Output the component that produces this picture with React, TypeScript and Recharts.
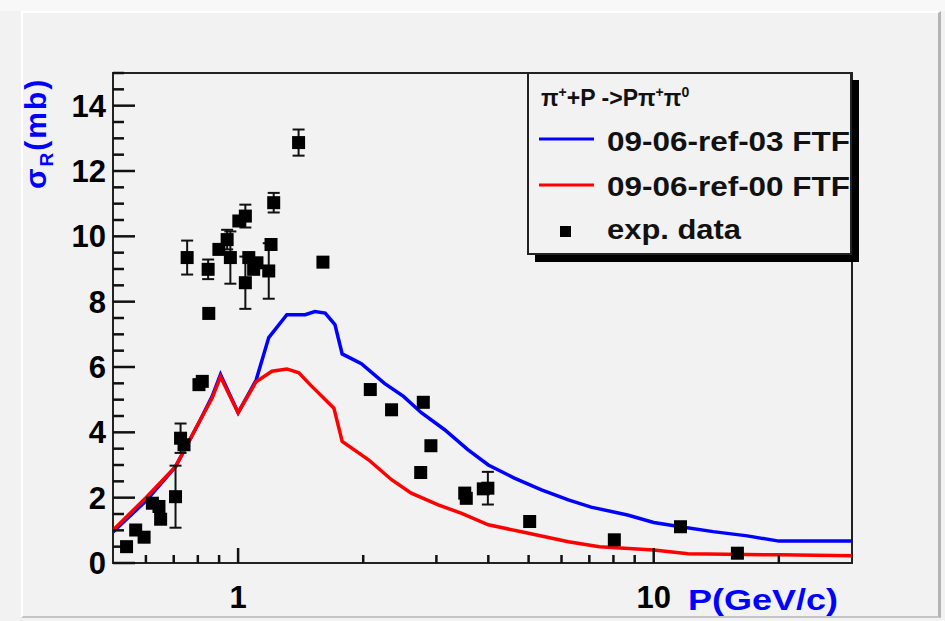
import React from "react";
import {
  ComposedChart, Line, Scatter, ErrorBar, XAxis, YAxis, ReferenceArea
} from "recharts";

// model curves: momentum (GeV/c) and cross section (mb)
const ref03P = [0.5, 0.6, 0.707, 0.805, 0.866, 0.907, 1.0, 1.105, 1.185, 1.31, 1.45, 1.53, 1.62, 1.71, 1.78, 1.98, 2.25, 2.5, 2.76, 3.14, 3.57, 4.0, 4.62, 5.37, 6.23, 7.07, 8.65, 10, 11.6, 13.9, 16.8, 20, 30];
const ref03S = [0.95, 1.9, 2.95, 4.3, 5.1, 5.77, 4.6, 5.6, 6.9, 7.6, 7.6, 7.7, 7.65, 7.3, 6.4, 6.1, 5.5, 5.1, 4.6, 4.08, 3.47, 3.0, 2.6, 2.24, 1.93, 1.71, 1.47, 1.24, 1.11, 0.96, 0.83, 0.67, 0.67];

const ref00P = [0.5, 0.6, 0.707, 0.805, 0.866, 0.907, 1.0, 1.105, 1.206, 1.31, 1.4, 1.49, 1.7, 1.78, 2.06, 2.34, 2.61, 3.03, 3.45, 4.0, 5.0, 6.23, 7.4, 10, 12.1, 20, 30];
const ref00S = [1.0, 2.0, 2.95, 4.3, 5.05, 5.7, 4.6, 5.55, 5.87, 5.94, 5.82, 5.46, 4.74, 3.72, 3.16, 2.55, 2.14, 1.78, 1.52, 1.17, 0.91, 0.65, 0.5, 0.4, 0.28, 0.25, 0.22];

// experimental points
const expP = [0.539, 0.567, 0.594, 0.622, 0.645, 0.651, 0.707, 0.727, 0.741, 0.754, 0.805, 0.82, 0.847, 0.85, 0.899, 0.941, 0.958, 1.004, 1.041, 1.041, 1.061, 1.09, 1.11, 1.185, 1.2, 1.218, 1.398, 1.6, 2.08, 2.34, 2.75, 2.79, 2.91, 3.51, 3.54, 3.89, 3.99, 5.03, 8.04, 11.6, 15.9];
const expS = [0.5, 1.01, 0.79, 1.83, 1.73, 1.34, 2.03, 3.82, 3.62, 9.35, 5.46, 5.56, 8.99, 7.64, 9.6, 9.9, 9.35, 10.47, 10.62, 8.58, 9.35, 8.99, 9.19, 8.94, 9.75, 11.03, 12.87, 9.21, 5.31, 4.69, 2.77, 4.92, 3.59, 2.14, 1.98, 2.27, 2.29, 1.27, 0.71, 1.11, 0.3];
const expErr = [0, 0, 0, 0, 0, 0, 0.95, 0.45, 0, 0.52, 0, 0, 0.3, 0, 0, 0.3, 0.8, 0, 0.35, 0.8, 0, 0, 0, 0.85, 0, 0.3, 0.4, 0, 0, 0, 0, 0.15, 0, 0, 0, 0, 0.5, 0, 0, 0, 0];

const xTicks = [0.6, 0.7, 0.8, 0.9, 1, 2, 3, 4, 5, 6, 7, 8, 9, 10, 20];
const xLabelled = [1, 10];
const yTicks = [0, 0.5, 1, 1.5, 2, 2.5, 3, 3.5, 4, 4.5, 5, 5.5, 6, 6.5, 7, 7.5, 8, 8.5, 9, 9.5, 10, 10.5, 11, 11.5, 12, 12.5, 13, 13.5, 14, 14.5, 15];
const yLabelled = [0, 2, 4, 6, 8, 10, 12, 14];

const ref03 = ref03P.map((p, i) => ({ p, v: ref03S[i] }));
const ref00 = ref00P.map((p, i) => ({ p, v: ref00S[i] }));
const exp = expP.map((p, i) => ({ p, v: expS[i], err: expErr[i] }));

const FONT = '"Liberation Sans", Arial, Helvetica, sans-serif';
const AXIS = "#111";
const MINOR_X = 8;
const MAJOR_X_EXTRA = 7;
const MINOR_Y = 11;
const MAJOR_Y_EXTRA = 11;

// tick y arrives at the end of the (inward) minor tick line
function XTick(props: any) {
  const { x, y, payload } = props;
  const val = payload.value;
  if (!xLabelled.includes(val)) return <g />;
  return (
    <g>
      <line x1={x} x2={x} y1={y} y2={y - MAJOR_X_EXTRA} stroke={AXIS} strokeWidth={2.5} />
      <text x={x} y={y + MINOR_X + 45} textAnchor="middle" fontFamily={FONT} fontWeight="bold" fontSize={31} fill="#000">
        {val}
      </text>
    </g>
  );
}

function YTick(props: any) {
  const { x, y, payload } = props;
  const val = payload.value;
  if (!yLabelled.includes(val)) return <g />;
  return (
    <g>
      <line x1={x} x2={x + MAJOR_Y_EXTRA} y1={y} y2={y} stroke={AXIS} strokeWidth={2.5} />
      <text x={x - MINOR_Y - 7} y={y} dy="0.36em" textAnchor="end" fontFamily={FONT} fontWeight="bold" fontSize={31} fill="#000">
        {val}
      </text>
    </g>
  );
}

function Square(props: any) {
  const { cx, cy } = props;
  return <rect x={cx - 6.5} y={cy - 6.5} width={13} height={13} fill="#000" />;
}

function LegendBox() {
  const w = 324;
  const h = 182;
  return (
    <svg width={w + 8} height={h + 8} style={{ display: "block" }}>
      <rect x={8} y={8} width={w} height={h} fill="#000" />
      <rect x={1} y={1} width={w - 1} height={h - 1} fill="#f2f2f2" stroke="#222" strokeWidth={2} />
      <text x={14} y={34} fontFamily={FONT} fontWeight="bold" fontSize={23} fill="#111">
        π<tspan dy={-9} fontSize={14}>+</tspan>
        <tspan dy={9}>+P -&gt;Pπ</tspan>
        <tspan dy={-9} fontSize={14}>+</tspan>
        <tspan dy={9}>π</tspan>
        <tspan dy={-9} fontSize={14}>0</tspan>
      </text>
      <line x1={12} x2={67} y1={67} y2={67} stroke="#0000ff" strokeWidth={3} />
      <line x1={12} x2={67} y1={113} y2={113} stroke="#ff0000" strokeWidth={3} />
      <rect x={33} y={154} width={11} height={11} fill="#000" />
      <svg x={0} y={0} width={w - 1} height={h}>
        <text x={80} y={79} fontFamily={FONT} fontWeight="bold" fontSize={28} fill="#111" textLength={243} lengthAdjust="spacingAndGlyphs">
          09-06-ref-03 FTF
        </text>
        <text x={80} y={124} fontFamily={FONT} fontWeight="bold" fontSize={28} fill="#111" textLength={243} lengthAdjust="spacingAndGlyphs">
          09-06-ref-00 FTF
        </text>
        <text x={80} y={167} fontFamily={FONT} fontWeight="bold" fontSize={28} fill="#111" textLength={134} lengthAdjust="spacingAndGlyphs">
          exp. data
        </text>
      </svg>
    </svg>
  );
}

export default function App() {
  return (
    <div style={{ position: "absolute", left: 0, top: 0, width: 945, height: 621, background: "#f2f2f2", overflow: "hidden" }}>
      <div style={{ position: "absolute", left: 0, top: 0, width: 945, height: 11, background: "#f8f8f8" }} />
      <div
        style={{
          position: "absolute", left: 21, top: 11, width: 915, height: 603,
          borderTop: "2px solid #ffffff", borderLeft: "2px solid #ffffff",
          borderRight: "3px solid #b4b4b4", borderBottom: "2px solid #c4c4c4"
        }}
      />
      <div style={{ position: "absolute", left: 0, top: 0 }}>
        <ComposedChart width={945} height={621} margin={{ top: 73, right: 93, bottom: 28, left: 53 }}>
          <XAxis
            dataKey="p"
            type="number"
            scale="log"
            domain={[0.5, 30]}
            allowDataOverflow
            ticks={xTicks}
            interval={0}
            height={30}
            axisLine={false}
            tickLine={{ stroke: AXIS, strokeWidth: 2.5 }}
            tickSize={-MINOR_X}
            tickMargin={0}
            tick={<XTick />}
            label={{
              content: () => (
                <text x={688} y={610} fontFamily={FONT} fontWeight="bold" fontSize={30} fill="#0000ff" textLength={150} lengthAdjust="spacingAndGlyphs">
                  P(GeV/c)
                </text>
              )
            }}
          />
          <YAxis
            dataKey="v"
            type="number"
            domain={[0, 15]}
            allowDataOverflow
            ticks={yTicks}
            interval={0}
            width={60}
            axisLine={false}
            tickLine={{ stroke: AXIS, strokeWidth: 2.5 }}
            tickSize={-MINOR_Y}
            tickMargin={0}
            tick={<YTick />}
            label={{
              content: () => (
                <text transform="translate(46,189) rotate(-90)" fontFamily={FONT} fontWeight="bold" fontSize={30} letterSpacing={2} fill="#0000ff">
                  σ<tspan dy={7} fontSize={19}>R</tspan>
                  <tspan dy={-7} fontSize={30}>(mb)</tspan>
                </text>
              )
            }}
          />
          <ReferenceArea x1={0.5} x2={30} y1={0} y2={15} fill="none" stroke="#222" strokeWidth={2} ifOverflow="visible" />
          <Line data={ref03} dataKey="v" type="linear" stroke="#0000ff" strokeWidth={3.5} dot={false} isAnimationActive={false} name="09-06-ref-03 FTF" />
          <Line data={ref00} dataKey="v" type="linear" stroke="#ff0000" strokeWidth={3.5} dot={false} isAnimationActive={false} name="09-06-ref-00 FTF" />
          <Scatter data={exp} dataKey="v" fill="#000" shape={<Square />} isAnimationActive={false} name="exp. data">
            <ErrorBar dataKey="err" direction="y" width={6} stroke="#111" strokeWidth={2} isAnimationActive={false} />
          </Scatter>
        </ComposedChart>
      </div>
      <div style={{ position: "absolute", left: 527, top: 72 }}>
        <LegendBox />
      </div>
    </div>
  );
}
